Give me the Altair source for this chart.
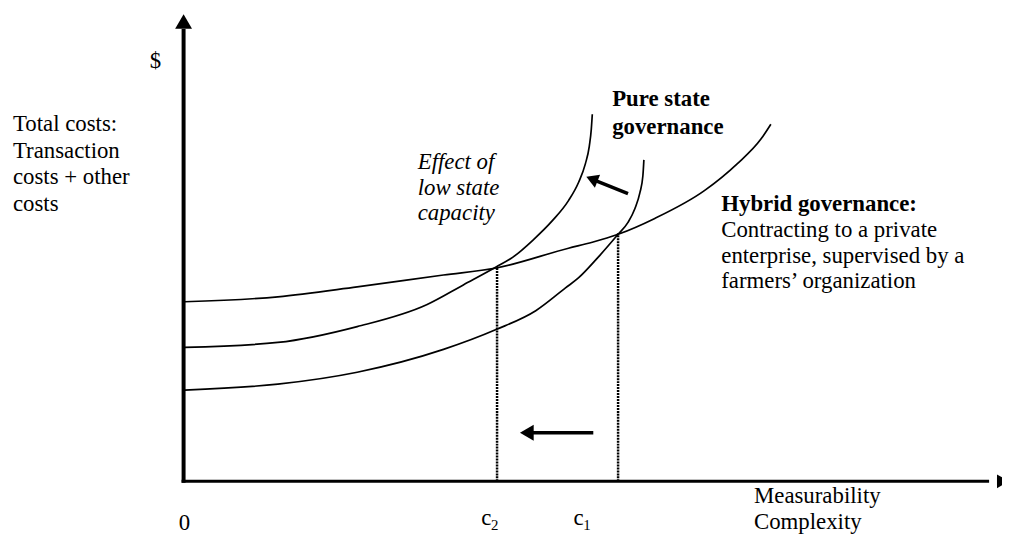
import altair as alt
import pandas as pd

# ---- curves (complexity units on x, cost units on y) ----
hybrid_x = [1, 95, 175, 262, 315, 388, 412, 438, 475, 525, 558, 582, 592]
hybrid_y = [181, 186, 196, 208, 215, 235, 241, 249, 265, 293, 320, 345, 360]
lowcap_x = [1, 95, 175, 245, 282, 315, 332, 352, 372, 388, 398, 405, 409, 411, 412]
lowcap_y = [135, 140, 156, 178, 198, 216, 226, 243, 263, 283, 301, 320, 338, 355, 370]
pure_x = [1, 95, 175, 262, 315, 355, 385, 398, 418, 438, 448, 455, 460, 463, 464]
pure_y = [92, 98, 110, 133, 153, 172, 195, 205, 226, 249, 261, 275, 291, 308, 324]

# equilibrium points (c2 with low state capacity, c1 without)
cut_x = [316, 438]
cut_y = [216, 250]

# ---- text ----
left_label = ["Total costs:", "Transaction", "costs + other", "costs"]
effect_label = ["Effect of", "low state", "capacity"]
pure_label = ["Pure state", "governance"]
hybrid_title = "Hybrid governance:"
hybrid_label = ["Contracting to a private", "enterprise, supervised by a",
                "farmers\u2019 organization"]
x_label = ["Measurability", "Complexity"]
y_label = "$"
origin_label = "0"
cut_names = ["c", "c"]
cut_subs = ["2", "1"]

FONT = "Liberation Serif"
FS = 23
X = alt.Scale(domain=[-177, 825], nice=False, zero=False)
Y = alt.Scale(domain=[-56, 475], nice=False, zero=False)


def xq(f="x"):
    return alt.X(f"{f}:Q", scale=X, axis=None)


def yq(f="y"):
    return alt.Y(f"{f}:Q", scale=Y, axis=None)


rows = []
for name, xs, ys in [("hybrid", hybrid_x, hybrid_y), ("low", lowcap_x, lowcap_y),
                     ("pure", pure_x, pure_y)]:
    for i, (a, b) in enumerate(zip(xs, ys)):
        rows.append({"curve": name, "i": i, "x": a, "y": b})
curves_df = pd.DataFrame(rows)

curves = alt.Chart(curves_df).mark_line(
    interpolate="monotone", color="black", strokeWidth=1.7
).encode(x=xq(), y=yq(), detail="curve:N", order="i:Q")

cuts_df = pd.DataFrame({"x": cut_x, "y0": [0, 0], "y": cut_y})
cuts = alt.Chart(cuts_df).mark_rule(
    color="black", strokeWidth=2.5, strokeDash=[2, 1]
).encode(x=xq(), y=yq("y0"), y2="y:Q")

# axes
yaxis = alt.Chart(pd.DataFrame({"x": [0], "y": [-1.5], "y2": [456]})).mark_rule(
    color="black", strokeWidth=4
).encode(x=xq(), y=yq(), y2="y2:Q")
xaxis = alt.Chart(pd.DataFrame({"x": [-2], "x2": [812], "y": [0]})).mark_rule(
    color="black", strokeWidth=3
).encode(x=xq(), x2="x2:Q", y=yq())

# arrow shafts
shafts_df = pd.DataFrame({"x": [448, 413], "x2": [411.6, 346],
                          "y": [290, 49], "y2": [304.7, 49]})
shafts = alt.Chart(shafts_df).mark_rule(color="black", strokeWidth=3.5).encode(
    x=xq(), x2="x2:Q", y=yq(), y2="y2:Q")

# arrow heads
heads_df = pd.DataFrame({
    "x": [0, 826, 411.6, 346],
    "y": [463.6, 0, 304.7, 49],
    "angle": [0, 90, 292, 270],
    "size": [289, 196, 196, 256],
})
heads = alt.Chart(heads_df).mark_point(
    shape="triangle-up", filled=True, color="black", opacity=1, strokeWidth=0
).encode(
    x=xq(), y=yq(),
    angle=alt.Angle("angle:Q", scale=None),
    size=alt.Size("size:Q", scale=None),
)


def text_layer(items, size=FS, style="normal", weight="normal"):
    df = pd.DataFrame(items, columns=["t", "x", "y"])
    return alt.Chart(df).mark_text(
        align="left", baseline="alphabetic", font=FONT, fontSize=size,
        fontStyle=style, fontWeight=weight, color="black"
    ).encode(x=xq(), y=yq(), text="t:N")


normal_items = (
    [(y_label, -34, 417)]
    + [(t, -172, v) for t, v in zip(left_label, [353, 326, 300, 273])]
    + [(t, 542, v) for t, v in zip(hybrid_label, [246, 220, 195])]
    + [(t, 575, v) for t, v in zip(x_label, [-22, -48])]
    + [(origin_label, -5, -49)]
    + [(t, u - 16, -44) for t, u in zip(cut_names, [316, 409])]
)
sub_items = [(t, u - 6, -49) for t, u in zip(cut_subs, [316, 409])]
italic_items = [(t, 236, v) for t, v in zip(effect_label, [315, 289, 263])]
bold_items = ([(t, 432, v) for t, v in zip(pure_label, [378, 350])]
              + [(hybrid_title, 542, 272)])

texts = [
    text_layer(normal_items),
    text_layer(sub_items, size=15),
    text_layer(italic_items, style="italic"),
    text_layer(bold_items, weight="bold"),
]

chart = alt.layer(cuts, curves, yaxis, xaxis, shafts, heads, *texts).properties(
    width=1002, height=531, padding=0,
    autosize=alt.AutoSizeParams(type="none"),
    background="white",
).configure_view(stroke=None)

chart.save("out.html", embed_options={"renderer": "svg", "actions": False})
